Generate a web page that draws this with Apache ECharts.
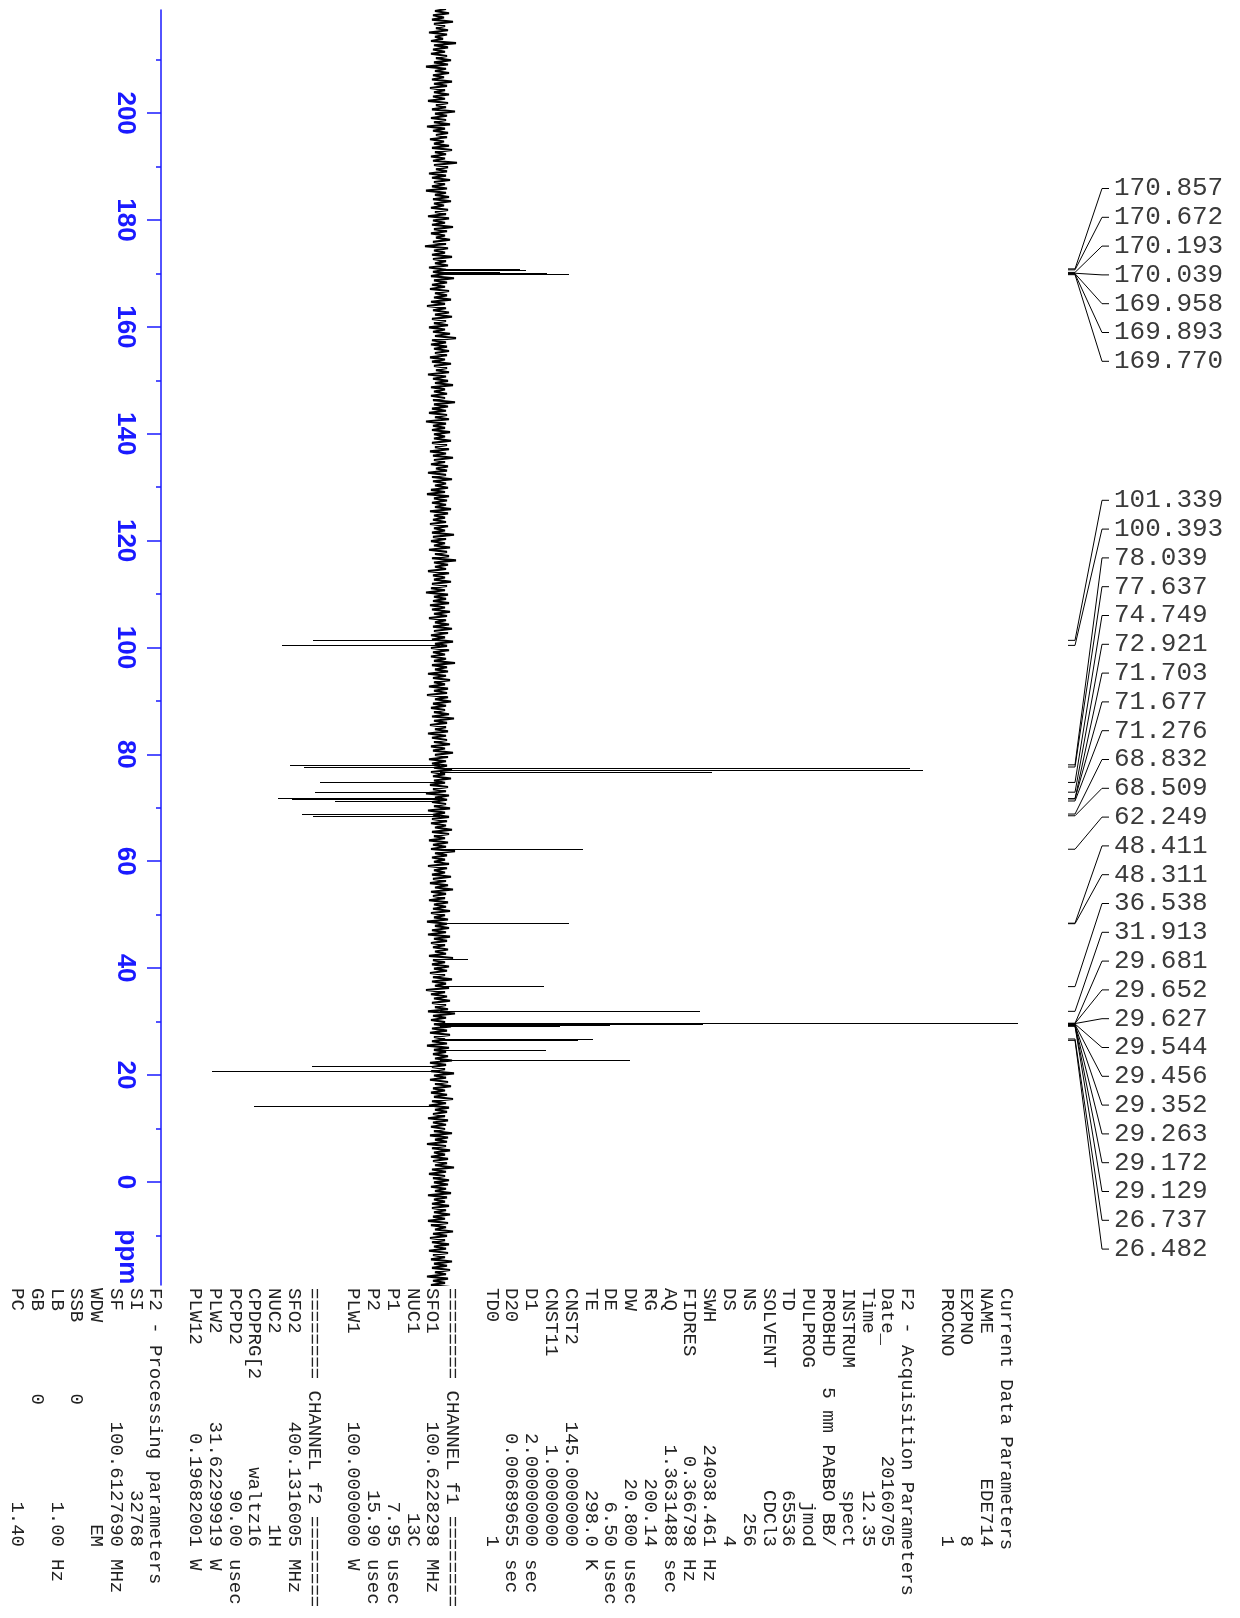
<!DOCTYPE html>
<html><head><meta charset="utf-8">
<script src="https://cdn.jsdelivr.net/npm/echarts@6.0.0/dist/echarts.min.js"></script>
<style>html,body{margin:0;padding:0;background:#fff}#c{width:1240px;height:1618px}</style>
</head><body><div id="c"></div>
<script>
// ---- axis ticks (ppm) ----
const ppmTicks = [0, 20, 40, 60, 80, 100, 120, 140, 160, 180, 200];
const ppmMinorTicks = [-10, 10, 30, 50, 70, 90, 110, 130, 150, 170, 190, 210];

const noiseStart = 219.5, noiseStep = 0.4;
const noise = [
6,-5,9,-7,4,-8,13,-6,5,-4,8,-11,7,-5,3,-9,16,-6,8,-7,
5,-9,7,-4,11,-6,8,-14,6,-5,9,-7,4,-8,12,-6,7,-10,5,-6,
9,-7,5,-12,8,-4,6,-8,15,-5,7,-9,6,-6,10,-13,5,-7,8,-4,
7,-10,4,-6,9,-8,12,-5,6,-9,5,-7,17,-6,8,-4,7,-11,6,-8,
10,-6,5,-8,7,-14,6,-5,9,-7,11,-6,4,-9,8,-5,6,-12,9,-7,
5,-8,13,-6,7,-9,5,-4,10,-7,6,-15,8,-6,5,-8,12,-7,6,-5,
8,-11,6,-7,4,-9,14,-6,7,-8,5,-10,9,-5,7,-6,11,-9,5,-13,
6,-7,9,-5,12,-8,6,-6,8,-11,5,-7,10,-5,16,-8,6,-9,7,-6,
9,-5,7,-10,5,-8,11,-6,7,-4,9,-12,6,-7,8,-5,13,-9,5,-6,
7,-9,5,-7,15,-6,8,-8,6,-11,7,-5,9,-14,6,-7,5,-8,10,-6,
5,-6,11,-8,7,-5,9,-10,6,-7,13,-6,5,-9,8,-4,7,-12,6,-8,
12,-7,6,-5,8,-9,5,-13,9,-6,7,-8,6,-5,11,-10,8,-6,5,-7,
6,-10,8,-6,5,-8,14,-7,6,-9,5,-6,10,-11,7,-5,9,-8,16,-6,
8,-5,6,-12,9,-7,5,-6,11,-8,7,-9,5,-14,8,-6,6,-7,9,-10,
5,-8,10,-6,7,-11,6,-5,9,-7,12,-6,8,-9,5,-8,13,-5,7,-9,
9,-7,5,-9,6,-6,15,-8,7,-5,8,-12,6,-7,10,-6,5,-11,8,-6,
7,-13,8,-5,11,-7,6,-9,5,-6,9,-8,14,-6,7,-10,6,-5,8,-12,
6,-8,7,-6,10,-9,5,-7,13,-5,8,-11,6,-8,7,-6,12,-9,5,-7,
11,-6,5,-10,8,-7,6,-14,9,-5,7,-8,6,-6,10,-12,5,-7,9,-8,
7,-9,6,-5,12,-8,9,-6,5,-11,8,-7,6,-9,15,-5,7,-8,5,-6,
9,-12,7,-6,5,-8,11,-7,6,-10,8,-5,13,-9,6,-7,5,-11,8,-6,
6,-7,10,-9,5,-6,8,-13,7,-5,9,-8,6,-12,10,-6,7,-9,5,-7,
8,-5,6,-11,13,-7,5,-8,9,-6,7,-10,5,-7,12,-8,6,-5,9,-14,
5,-9,7,-6,10,-8,6,-5,8,-12,15,-7,6,-9,5,-6,11,-8,7,-10,
10,-6,5,-8,7,-13,9,-6,6,-7,8,-5,12,-10,6,-8,5,-9,14,-6,
6,-10,8,-5,11,-7,5,-9,7,-6,13,-8,6,-11,9,-5,7,-7,5,-12,
8,-7,6,-9,5,-6,12,-10,8,-5,7,-13,6,-8,10,-6,5,-9,8,-7,
7,-5,14,-8,6,-11,5,-7,9,-6,8,-9,6,-5,11,-12,7,-6,5,-8,
9,-8,6,-6,10,-7,5,-12,8,-9,6,-5,13,-7,7,-10,5,-8,9,-6,
6,-11,8,-7,5,-9,12,-6,7,-8,10,-5,6,-13,8,-7,5,-9,11,-6
];

// ---- resolved peaks (ppm, intensity) ----
const peakPpm = [170.857,170.672,170.193,170.039,169.958,169.893,169.770,
  101.339,100.393,78.039,77.637,77.32,77.00,76.68,74.749,72.921,71.703,71.677,71.276,68.832,68.509,
  62.249,48.411,48.311,41.7,36.538,31.913,29.681,29.652,29.627,29.544,29.456,29.352,29.263,29.172,29.129,
  26.737,26.482,24.70,22.70,21.60,20.75,20.65,14.10];
const peakHeight = [80,86,60,97,107,70,129,
  -127,-158,-150,-136,470,483,272,-120,-125,-162,-148,-105,-138,-127,
  143,129,95,28,104,260,300,578,415,263,201,170,150,120,110,
  153,138,106,190,-128,-228,-214,-186];

// ---- peak-picking labels ----
const labelPpm1 = [170.857,170.672,170.193,170.039,169.958,169.893,169.770];
const labelPpm2 = [101.339,100.393,78.039,77.637,74.749,72.921,71.703,71.677,71.276,68.832,68.509,62.249,
  48.411,48.311,36.538,31.913,29.681,29.652,29.627,29.544,29.456,29.352,29.263,29.172,29.129,26.737,26.482];

// ---- parameter listing ----
const paramRows = [
['Current Data Parameters'],['NAME','EDE714'],['EXPNO','8'],['PROCNO','1'],[],
['F2 - Acquisition Parameters'],['Date_','20160705'],['Time','12.35'],['INSTRUM','spect'],
['PROBHD','5 mm PABBO BB/'],['PULPROG','jmod'],['TD','65536'],['SOLVENT','CDCl3'],['NS','256'],['DS','4'],
['SWH','24038.461','Hz'],['FIDRES','0.366798','Hz'],['AQ','1.3631488','sec'],['RG','200.14'],
['DW','20.800','usec'],['DE','6.50','usec'],['TE','298.0','K'],['CNST2','145.0000000'],['CNST11','1.0000000'],
['D1','2.00000000','sec'],['D20','0.00689655','sec'],['TD0','1'],[],
['======== CHANNEL f1 ========'],['SFO1','100.6228298','MHz'],['NUC1','13C'],['P1','7.95','usec'],
['P2','15.90','usec'],['PLW1','100.0000000','W'],[],
['======== CHANNEL f2 ========'],['SFO2','400.1316005','MHz'],['NUC2','1H'],['CPDPRG[2','waltz16'],
['PCPD2','90.00','usec'],['PLW2','31.62299919','W'],['PLW12','0.19682001','W'],[],
['F2 - Processing parameters'],['SI','32768'],['SF','100.6127690','MHz'],['WDW','EM'],
['SSB','0','','short'],['LB','1.00','Hz'],['GB','0','','short'],['PC','1.40']
];

// ---- layout ----
const BLUE = '#1a1aff';
const LABEL_TOP = [188.5, 500.3], LABEL_STEP = 28.8;
const MONO = '"Liberation Mono", "DejaVu Sans Mono", monospace';

const chart = echarts.init(document.getElementById('c'), null, {renderer: 'canvas'});

const noiseData = noise.map((v, i) => [v, noiseStart - i * noiseStep]);
const peakData = peakPpm.map((p, i) => ({coords: [[0, p], [peakHeight[i], p]]}));
const labelItems = [];
labelPpm1.forEach((p, i) => labelItems.push([0, p, i]));
labelPpm2.forEach((p, i) => labelItems.push([1, p, i]));

const graphics = [];
paramRows.forEach((r, i) => {
  if (!r.length) return;
  const x = 1006 - 19.78 * i;
  const f = '19px ' + MONO;
  graphics.push({type: 'text', x: x, y: 1288, rotation: -Math.PI / 2, silent: true,
    style: {text: r[0], font: f, fill: '#222', align: 'left', verticalAlign: 'middle'}});
  if (r[1] !== undefined) {
    const end = r[3] === 'short' ? 1405 : 1547;
    graphics.push({type: 'text', x: x, y: end, rotation: -Math.PI / 2, silent: true,
      style: {text: r[1], font: f, fill: '#222', align: 'right', verticalAlign: 'middle'}});
  }
  if (r[2]) {
    graphics.push({type: 'text', x: x, y: 1559, rotation: -Math.PI / 2, silent: true,
      style: {text: r[2], font: f, fill: '#222', align: 'left', verticalAlign: 'middle'}});
  }
});
graphics.push({type: 'text', x: 127, y: 1257, rotation: -Math.PI / 2, silent: true,
  style: {text: 'ppm', font: 'bold 26px "Liberation Sans", Arial, sans-serif', fill: BLUE, align: 'center', verticalAlign: 'middle'}});

chart.setOption({
  animation: false,
  backgroundColor: '#fff',
  grid: {left: 161, right: 0, top: 10, bottom: 333, containLabel: false, outerBoundsMode: 'none'},
  xAxis: {type: 'value', min: -279, max: 800, show: false},
  yAxis: [
    {type: 'value', min: -19.3, max: 219.3, position: 'left',
      axisLine: {show: true, onZero: false, lineStyle: {color: BLUE, width: 1.5}},
      axisTick: {show: true, inside: false, length: 14, customValues: ppmTicks, lineStyle: {color: BLUE, width: 1.5}},
      axisLabel: {show: true, customValues: ppmTicks, rotate: -90, margin: 23, color: BLUE,
        fontFamily: '"Liberation Sans", Arial, sans-serif', fontWeight: 'bold', fontSize: 26},
      splitLine: {show: false}},
    {type: 'value', min: -19.3, max: 219.3, position: 'left',
      axisLine: {show: false, onZero: false},
      axisTick: {show: true, inside: false, length: 5, customValues: ppmMinorTicks, lineStyle: {color: BLUE, width: 1.5}},
      axisLabel: {show: false}, splitLine: {show: false}}
  ],
  graphic: graphics,
  series: [
    {type: 'line', data: noiseData, showSymbol: false, symbol: 'none', silent: true,
      lineStyle: {color: '#000', width: 2.1}, z: 2},
    {type: 'lines', coordinateSystem: 'cartesian2d', data: peakData, silent: true,
      lineStyle: {color: '#000', width: 1.1, opacity: 1}, z: 3},
    {type: 'custom', coordinateSystem: 'cartesian2d', data: labelItems, encode: {x: 0, y: 1},
      clip: false, silent: true, z: 4,
      renderItem: function (params, api) {
        const grp = api.value(0), ppm = api.value(1), slot = api.value(2);
        const yp = api.coord([0, ppm])[1];
        const yl = LABEL_TOP[grp] + slot * LABEL_STEP;
        return {type: 'group', children: [
          {type: 'polyline', shape: {points: [[1068, yp], [1075, yp], [1102, yl], [1109, yl]]},
            style: {stroke: '#000', fill: null, lineWidth: 1}},
          {type: 'text', style: {text: ppm.toFixed(3), x: 1114, y: yl, font: '26px ' + MONO,
            fill: '#3a3a3a', align: 'left', verticalAlign: 'middle'}}
        ]};
      }}
  ]
});
</script></body></html>
